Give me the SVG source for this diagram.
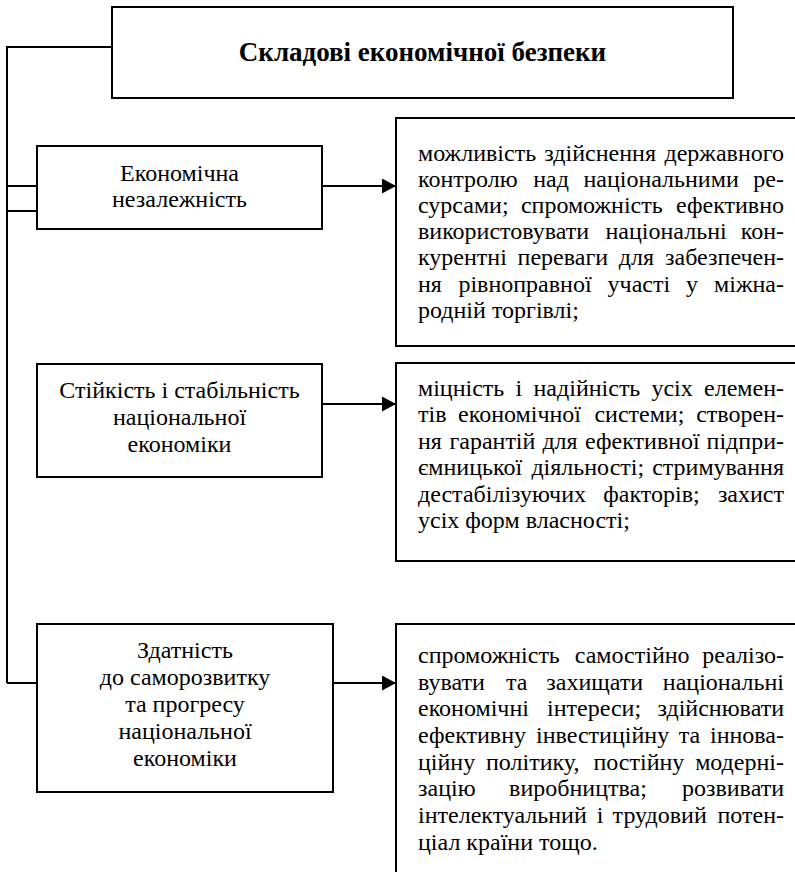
<svg xmlns="http://www.w3.org/2000/svg" width="795" height="872" viewBox="0 0 795 872">
<style>
  .box { fill: #fff; stroke: #000; stroke-width: 2; }
  .ln { fill: none; stroke: #000; stroke-width: 2; }
  .t { font-family: "Liberation Serif", "Times New Roman", serif; font-size: 24px; fill: #000; }
  .c { text-anchor: middle; }
  .e { text-anchor: end; }
  .title { font-family: "Liberation Serif", "Times New Roman", serif; font-size: 27px; font-weight: bold; fill: #000; text-anchor: middle; }
</style>
<defs>
  <marker id="arr" markerUnits="userSpaceOnUse" markerWidth="14" markerHeight="15" refX="14" refY="7.5" orient="auto">
    <path d="M0,0 L14,7.5 L0,15 z" fill="#000"/>
  </marker>
</defs>

<g id="connectors">
  <path class="ln" d="M7,683 V47 H112"/>
  <path class="ln" d="M7,186 H37"/>
  <path class="ln" d="M7,211 H37"/>
  <path class="ln" d="M7,683 H37"/>
  <path class="ln" d="M322,186 H396" marker-end="url(#arr)"/>
  <path class="ln" d="M322,404 H396" marker-end="url(#arr)"/>
  <path class="ln" d="M320,683 H396" marker-end="url(#arr)"/>
</g>

<g id="title">
  <rect class="box" x="112" y="7" width="621" height="91"/>
  <text class="title" x="422.5" y="61">Складові економічної безпеки</text>
</g>

<g id="n1">
  <rect class="box" x="37" y="146" width="285" height="83"/>
  <text class="t c" x="179.5" y="181">Економічна</text>
  <text class="t c" x="179.5" y="207">незалежність</text>
</g>

<g id="n2">
  <rect class="box" x="37" y="364" width="285" height="113"/>
  <text class="t c" x="179.5" y="398">Стійкість і стабільність</text>
  <text class="t c" x="179.5" y="425">національної</text>
  <text class="t c" x="179.5" y="452">економіки</text>
</g>

<g id="n3">
  <rect class="box" x="37" y="624" width="296" height="168"/>
  <text class="t c" x="185" y="658">Здатність</text>
  <text class="t c" x="185" y="685">до саморозвитку</text>
  <text class="t c" x="185" y="712">та прогресу</text>
  <text class="t c" x="185" y="739">національної</text>
  <text class="t c" x="185" y="766">економіки</text>
</g>

<g id="d1">
  <rect class="box" x="396" y="118" width="420" height="228"/>
  <text class="t" y="161"><tspan x="418">можливість</tspan><tspan x="544.3">здійснення</tspan><tspan x="784" class="e">державного</tspan></text>
  <text class="t" y="187"><tspan x="418">контролю</tspan><tspan x="533.2">над</tspan><tspan x="583.4">національними</tspan><tspan x="784" class="e">ре-</tspan></text>
  <text class="t" y="213"><tspan x="418">сурсами;</tspan><tspan x="520.9">спроможність</tspan><tspan x="784" class="e">ефективно</tspan></text>
  <text class="t" y="239"><tspan x="418">використовувати</tspan><tspan x="605.5">національні</tspan><tspan x="784" class="e">кон-</tspan></text>
  <text class="t" y="265"><tspan x="418">курентні</tspan><tspan x="517.6">переваги</tspan><tspan x="618.8">для</tspan><tspan x="784" class="e">забезпечен-</tspan></text>
  <text class="t" y="292"><tspan x="418">ня</tspan><tspan x="458.4">рівноправної</tspan><tspan x="607.6">участі</tspan><tspan x="686.1">у</tspan><tspan x="784" class="e">міжна-</tspan></text>
  <text class="t" x="418" y="318">родній торгівлі;</text>
</g>

<g id="d2">
  <rect class="box" x="396" y="363" width="420" height="198"/>
  <text class="t" y="396"><tspan x="418">міцність</tspan><tspan x="515.6">і</tspan><tspan x="533.5">надійність</tspan><tspan x="651.4">усіх</tspan><tspan x="784" class="e">елемен-</tspan></text>
  <text class="t" y="422"><tspan x="418">тів</tspan><tspan x="458.1">економічної</tspan><tspan x="594.4">системи;</tspan><tspan x="784" class="e">створен-</tspan></text>
  <text class="t" y="449"><tspan x="418">ня</tspan><tspan x="449.4">гарантій</tspan><tspan x="542.4">для</tspan><tspan x="585.1">ефективної</tspan><tspan x="784" class="e">підпри-</tspan></text>
  <text class="t" y="475"><tspan x="418">ємницької</tspan><tspan x="531.4">діяльності;</tspan><tspan x="784" class="e">стримування</tspan></text>
  <text class="t" y="502"><tspan x="418">дестабілізуючих</tspan><tspan x="603.3">факторів;</tspan><tspan x="784" class="e">захист</tspan></text>
  <text class="t" x="418" y="528">усіх форм власності;</text>
</g>

<g id="d3">
  <rect class="box" x="396" y="624" width="420" height="270"/>
  <text class="t" y="663"><tspan x="418">спроможність</tspan><tspan x="574.7">самостійно</tspan><tspan x="784" class="e">реалізо-</tspan></text>
  <text class="t" y="690"><tspan x="418">вувати</tspan><tspan x="505.9">та</tspan><tspan x="546.3">захищати</tspan><tspan x="784" class="e">національні</tspan></text>
  <text class="t" y="716"><tspan x="418">економічні</tspan><tspan x="547">інтереси;</tspan><tspan x="784" class="e">здійснювати</tspan></text>
  <text class="t" y="743"><tspan x="418">ефективну</tspan><tspan x="536">інвестиційну</tspan><tspan x="678.7">та</tspan><tspan x="784" class="e">іннова-</tspan></text>
  <text class="t" y="770"><tspan x="418">ційну</tspan><tspan x="486">політику,</tspan><tspan x="593.4">постійну</tspan><tspan x="784" class="e">модерні-</tspan></text>
  <text class="t" y="796"><tspan x="418">зацію</tspan><tspan x="509.1">виробництва;</tspan><tspan x="784" class="e">розвивати</tspan></text>
  <text class="t" y="823"><tspan x="418">інтелектуальний</tspan><tspan x="596.8">і</tspan><tspan x="612.6">трудовий</tspan><tspan x="784" class="e">потен-</tspan></text>
  <text class="t" x="418" y="850">ціал країни тощо.</text>
</g>
</svg>
